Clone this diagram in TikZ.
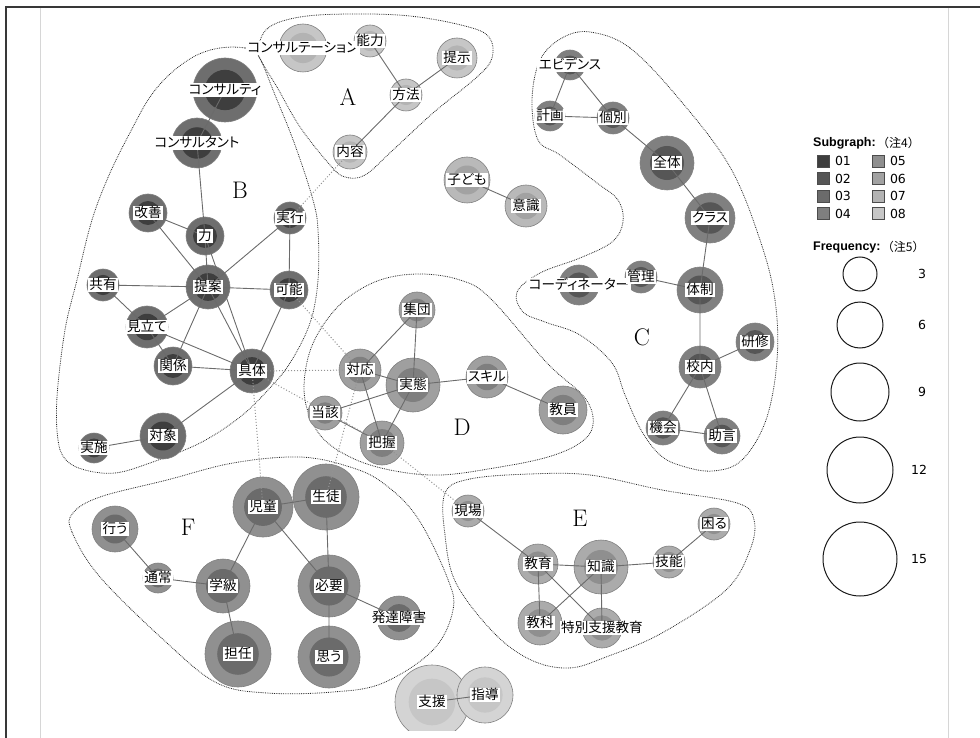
\documentclass[tikz,border=0pt]{standalone}
\usepackage{fontspec}
\usepackage{tikz}
\usetikzlibrary{arrows.meta}
\newfontfamily\jp[RawFeature=+palt]{Noto Sans CJK JP}
\newfontfamily\jpnote{Noto Sans CJK JP}
\newfontfamily\lgd{DejaVu Sans}
\newfontfamily\lgdb{Liberation Sans}
\definecolor{sg1}{RGB}{62, 62, 62}
\definecolor{sg2}{RGB}{86, 86, 86}
\definecolor{sg3}{RGB}{107, 107, 107}
\definecolor{sg4}{RGB}{127, 127, 127}
\definecolor{sg5}{RGB}{143, 143, 143}
\definecolor{sg6}{RGB}{162, 162, 162}
\definecolor{sg7}{RGB}{179, 179, 179}
\definecolor{sg8}{RGB}{198, 198, 198}
\tikzstyle{ring}=[circle, draw=black!50, line width=0.6pt, inner sep=0pt]
\tikzstyle{core}=[circle, inner sep=0pt]
\tikzstyle{tag}=[rectangle, fill=white, inner xsep=1.5pt, inner ysep=0.6pt, text height=11pt, text depth=2.6pt, font=\jp\fontsize{13.6}{14}\selectfont]
\tikzstyle{tie}=[draw=black!58, line width=0.9pt]
\tikzstyle{link}=[draw=black!42, line width=1pt, dotted]
\tikzstyle{zone}=[draw=black!85, line width=0.8pt, densely dotted]
\tikzstyle{grp}=[font=\fontsize{24}{24}\selectfont]
\tikzstyle{swatch}=[rectangle, draw=black!70, line width=0.6pt, minimum size=12pt, inner sep=0pt]
\tikzstyle{lgdnum}=[inner sep=0pt, font=\lgd\fontsize{12.5}{13}\selectfont]
\tikzstyle{freq}=[circle, draw=black!90, line width=1pt, inner sep=0pt]
\pgfdeclarelayer{ties}
\pgfdeclarelayer{tags}
\pgfsetlayers{main,ties,tags}
% word: name, x, y, radius, subgraph colour, text
\newcommand{\kw}[6]{%
  \node[ring, minimum size=#4*2pt, fill=#5!75!white] (#1) at (#2,#3) {};
  \node[core, minimum size=#4*1.26pt, fill=#5] (#1-c) at (#1) {};
  \begin{pgfonlayer}{tags}\node[tag] (#1-t) at (#1) {#6};\end{pgfonlayer}}

\begin{document}
\begin{tikzpicture}[x=1pt, y=-1pt]
      %
      \useasboundingbox (0,0) rectangle (980,738);
      \draw[black!78, line width=2pt] (6,738) -- (6,7) -- (980,7);
      \draw[black!16, line width=0.8pt] (40.5,8) -- (40.5,738) (948,8) -- (948,738);
      %
      % subgraph areas
      %
      \draw[zone] plot[smooth cycle, tension=0.6] coordinates {(258,50) (268,28) (300,17) (350,14) (410,16) (465,26) (489,37) (492,58) (477,77) (433,113) (393,150) (365,175) (345,177) (330,165) (300,127) (277,87) (263,64)};
      \draw[zone] plot[smooth cycle, tension=0.6] coordinates {(258,55) (245,48) (220,48) (195,56) (170,74) (150,97) (133,127) (110,173) (92,220) (77,280) (65,330) (57,397) (58,440) (66,460) (85,470) (115,473) (150,463) (200,443) (240,417) (268,390) (290,363) (310,323) (318,280) (318,230) (313,200) (295,145) (275,95)};
      \draw[zone] plot[smooth cycle, tension=0.6] coordinates {(590,32) (630,48) (680,100) (730,167) (760,240) (775,300) (777,360) (766,420) (742,460) (713,471) (682,466) (660,455) (641,430) (625,395) (612,363) (580,335) (545,322) (523,312) (517,292) (540,273) (580,258) (612,242) (623,222) (618,200) (597,183) (560,155) (538,140) (532,100) (540,60) (562,38)};
      \draw[zone] plot[smooth cycle, tension=0.6] coordinates {(307,362) (320,330) (345,300) (380,280) (420,274) (460,280) (490,298) (547,363) (585,398) (593,425) (580,443) (548,457) (500,467) (440,475) (390,470) (350,457) (320,435) (305,400)};
      \draw[zone] plot[smooth cycle, tension=0.6] coordinates {(445,493) (470,479) (530,474) (590,475) (662,490) (737,503) (754,520) (750,550) (726,590) (662,633) (606,657) (569,668) (531,660) (494,633) (456,583) (445,535)};
      \draw[zone] plot[smooth cycle, tension=0.6] coordinates {(73,513) (72,532) (100,577) (167,643) (217,683) (267,693) (333,692) (383,683) (433,650) (453,610) (447,577) (417,517) (383,483) (350,467) (300,457) (233,463) (167,480) (100,497)};
      \node[grp] (labA) at (348,97) {A};
      \node[grp] (labB) at (240,190) {B};
      \node[grp] (labC) at (642,337) {C};
      \node[grp] (labD) at (462,427) {D};
      \node[grp] (labE) at (580,518) {E};
      \node[grp] (labF) at (188,527) {F};
      %
      % A
      %
      \kw{consultation}{303}{48}{24}{sg7}{コンサルテーション}
      \kw{ability}{370}{41}{16}{sg7}{能力}
      \kw{present}{457}{58}{20}{sg7}{提示}
      \kw{method}{406}{95}{16}{sg7}{方法}
      \kw{content}{350}{152}{17}{sg7}{内容}
      %
      % B
      %
      \kw{consultee}{225}{90}{32}{sg1}{コンサルティ}
      \kw{consultant}{197}{143}{25}{sg1}{コンサルタント}
      \kw{improve}{148}{213}{19}{sg1}{改善}
      \kw{power}{205}{236}{19}{sg1}{力}
      \kw{execute}{290}{218}{16}{sg1}{実行}
      \kw{share}{103}{285}{16}{sg1}{共有}
      \kw{propose}{208}{287}{22}{sg1}{提案}
      \kw{possible}{289}{290}{19}{sg1}{可能}
      \kw{mitate}{147}{327}{21}{sg1}{見立て}
      \kw{relation}{173}{366}{19}{sg1}{関係}
      \kw{concrete}{252}{371}{22}{sg1}{具体}
      \kw{target}{163}{436}{23}{sg1}{対象}
      \kw{conduct}{94}{448}{15}{sg1}{実施}
      %
      % C
      %
      \kw{evidence}{570}{65}{15}{sg2}{エビデンス}
      \kw{plan}{550}{116}{15}{sg2}{計画}
      \kw{indiv}{613}{118}{16}{sg2}{個別}
      \kw{whole}{667}{163}{27}{sg2}{全体}
      \kw{klass}{710}{218}{25}{sg2}{クラス}
      \kw{coord}{579}{285}{20}{sg2}{コーディネーター}
      \kw{manage}{641}{277}{16}{sg2}{管理}
      \kw{system}{700}{290}{23}{sg2}{体制}
      \kw{training}{755}{342}{19}{sg2}{研修}
      \kw{inschool}{700}{367}{21}{sg2}{校内}
      \kw{chance}{663}{428}{17}{sg2}{機会}
      \kw{advice}{722}{436}{18}{sg2}{助言}
      %
      % free pair
      %
      \kw{child}{467}{180}{23}{sg6}{子ども}
      \kw{aware}{526}{206}{21}{sg6}{意識}
      %
      % D
      %
      \kw{group}{417}{310}{18}{sg4}{集団}
      \kw{respond}{360}{370}{21}{sg4}{対応}
      \kw{actual}{413}{385}{27}{sg4}{実態}
      \kw{skill}{487}{377}{21}{sg4}{スキル}
      \kw{teacher}{563}{410}{24}{sg4}{教員}
      \kw{said}{325}{413}{17}{sg4}{当該}
      \kw{grasp}{382}{443}{22}{sg4}{把握}
      %
      % E
      %
      \kw{site}{468}{511}{16}{sg5}{現場}
      \kw{trouble}{714}{524}{16}{sg5}{困る}
      \kw{skillE}{669}{562}{16}{sg5}{技能}
      \kw{educ}{538}{564}{20}{sg5}{教育}
      \kw{know}{601}{567}{27}{sg5}{知識}
      \kw{subject}{540}{623}{22}{sg5}{教科}
      \kw{sne}{602}{628}{20}{sg5}{特別支援教育}
      %
      % F
      %
      \kw{pupil}{263}{507}{30}{sg3}{児童}
      \kw{student}{326}{497}{33}{sg3}{生徒}
      \kw{do}{115}{529}{23}{sg3}{行う}
      \kw{usual}{158}{578}{15}{sg3}{通常}
      \kw{klassF}{223}{586}{27}{sg3}{学級}
      \kw{need}{329}{586}{31}{sg3}{必要}
      \kw{dd}{399}{618}{22}{sg3}{発達障害}
      \kw{homeroom}{238}{654}{33}{sg3}{担任}
      \kw{think}{329}{657}{31}{sg3}{思う}
      %
      % bottom pair, cut at the lower edge
      %
      \begin{scope}
        \clip (40,0) rectangle (948,730);
        \kw{support}{432}{702}{37}{sg8}{支援}
        \kw{guide}{485}{695}{28}{sg8}{指導}
      \end{scope}
      %
      % co-occurrence ties
      %
      \begin{pgfonlayer}{ties}
      \path[tie] (consultation.center) -- (ability.center) (ability.center) -- (method.center)
        (present.center) -- (method.center) (method.center) -- (content.center);
      \path[tie] (consultee.center) -- (consultant.center) (consultant.center) -- (power.center)
        (improve.center) -- (power.center) (improve.center) -- (propose.center)
        (power.center) -- (propose.center) (power.center) -- (concrete.center)
        (execute.center) -- (propose.center) (execute.center) -- (possible.center)
        (share.center) -- (propose.center) (propose.center) -- (possible.center)
        (share.center) -- (mitate.center) (mitate.center) -- (propose.center)
        (mitate.center) -- (relation.center) (mitate.center) -- (concrete.center)
        (propose.center) -- (relation.center) (propose.center) -- (concrete.center)
        (relation.center) -- (concrete.center) (possible.center) -- (concrete.center)
        (concrete.center) -- (target.center) (target.center) -- (conduct.center);
      \path[tie] (evidence.center) -- (plan.center) (evidence.center) -- (indiv.center)
        (plan.center) -- (indiv.center) (indiv.center) -- (whole.center)
        (whole.center) -- (klass.center) (klass.center) -- (system.center)
        (manage.center) -- (system.center) (system.center) -- (inschool.center)
        (inschool.center) -- (training.center) (inschool.center) -- (chance.center)
        (inschool.center) -- (advice.center) (chance.center) -- (advice.center);
      \path[tie] (child.center) -- (aware.center);
      \path[tie] (group.center) -- (respond.center) (group.center) -- (actual.center)
        (respond.center) -- (actual.center) (actual.center) -- (skill.center)
        (skill.center) -- (teacher.center) (respond.center) -- (grasp.center)
        (actual.center) -- (grasp.center) (said.center) -- (actual.center)
        (said.center) -- (grasp.center);
      \path[tie] (site.center) -- (educ.center) (educ.center) -- (know.center)
        (know.center) -- (skillE.center) (skillE.center) -- (trouble.center)
        (educ.center) -- (subject.center) (educ.center) -- (sne.center)
        (know.center) -- (subject.center) (know.center) -- (sne.center);
      \path[tie] (pupil.center) -- (student.center) (pupil.center) -- (klassF.center)
        (pupil.center) -- (need.center) (student.center) -- (need.center)
        (do.center) -- (usual.center) (usual.center) -- (klassF.center)
        (klassF.center) -- (homeroom.center) (need.center) -- (think.center)
        (need.center) -- (dd.center);
      \path[tie] (support.center) -- (guide.center);
      %
      % ties between subgraphs
      %
      \path[link] (content.center) -- (execute.center) (possible.center) -- (respond.center)
        (concrete.center) -- (respond.center) (concrete.center) -- (grasp.center)
        (concrete.center) -- (pupil.center) (respond.center) -- (student.center)
        (grasp.center) -- (site.center);
      \end{pgfonlayer}
      %
      % legend
      %
      \node[anchor=west, inner sep=0pt, font=\lgdb\bfseries\fontsize{12.5}{13}\selectfont] (sgtitle) at (813,143) {Subgraph:};
      \node[anchor=west, inner sep=0pt, font=\jpnote\fontsize{12}{13}\selectfont] (sgnote) at ([xshift=1pt]sgtitle.east) {（注4）};
      \node[swatch, fill=sg1, label={[lgdnum, label distance=5pt]right:01}] (sw1) at (823.5,161) {};
      \node[swatch, fill=sg2, label={[lgdnum, label distance=5pt]right:02}] (sw2) at (823.5,178.5) {};
      \node[swatch, fill=sg3, label={[lgdnum, label distance=5pt]right:03}] (sw3) at (823.5,196) {};
      \node[swatch, fill=sg4, label={[lgdnum, label distance=5pt]right:04}] (sw4) at (823.5,213.5) {};
      \node[swatch, fill=sg5, label={[lgdnum, label distance=5pt]right:05}] (sw5) at (878.5,161) {};
      \node[swatch, fill=sg6, label={[lgdnum, label distance=5pt]right:06}] (sw6) at (878.5,178.5) {};
      \node[swatch, fill=sg7, label={[lgdnum, label distance=5pt]right:07}] (sw7) at (878.5,196) {};
      \node[swatch, fill=sg8, label={[lgdnum, label distance=5pt]right:08}] (sw8) at (878.5,213.5) {};
      \node[anchor=west, inner sep=0pt, font=\lgdb\bfseries\fontsize{12.5}{13}\selectfont] (frtitle) at (813,247) {Frequency:};
      \node[anchor=west, inner sep=0pt, font=\jpnote\fontsize{12}{13}\selectfont] (frnote) at ([xshift=1pt]frtitle.east) {（注5）};
      \node[freq, minimum size=34pt] (f3) at (860,274) {};
      \node[freq, minimum size=46pt] (f6) at (860,325) {};
      \node[freq, minimum size=58pt] (f9) at (860,392) {};
      \node[freq, minimum size=66pt] (f12) at (860,470) {};
      \node[freq, minimum size=74pt] (f15) at (860,559) {};
      \node[lgdnum] (n3) at (922,274) {3};
      \node[lgdnum] (n6) at (922,325) {6};
      \node[lgdnum] (n9) at (922,392) {9};
      \node[lgdnum] (n12) at (919,470) {12};
      \node[lgdnum] (n15) at (919,559) {15};
      %
    \end{tikzpicture}
\end{document}
